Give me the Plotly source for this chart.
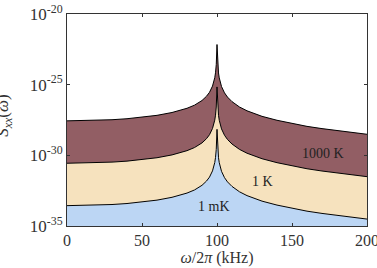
import plotly.graph_objects as go

# frequency (kHz)
freq_khz = [0, 10, 20, 30, 40, 50, 60, 70, 80, 85, 90, 93, 95, 97, 98, 98.5, 99, 99.5,
            100, 100.5, 101, 101.5, 102, 103, 105, 107, 110, 115, 120, 130, 140, 150,
            160, 170, 180, 190, 200]

# log10 of S_xx
log_s_1000K = [-27.56, -27.55, -27.52, -27.48, -27.41, -27.31, -27.17, -26.97, -26.67, -26.45,
               -26.12, -25.82, -25.54, -25.10, -24.76, -24.51, -24.16, -23.58,
               -22.16, -23.58, -24.17, -24.52, -24.77, -25.13, -25.58, -25.88, -26.20, -26.58,
               -26.85, -27.24, -27.52, -27.75, -27.95, -28.11, -28.26, -28.39, -28.51]
log_s_1K = [-30.56, -30.55, -30.52, -30.48, -30.41, -30.31, -30.17, -29.97, -29.67, -29.45,
            -29.12, -28.82, -28.54, -28.10, -27.76, -27.51, -27.16, -26.58,
            -25.16, -26.58, -27.17, -27.52, -27.77, -28.13, -28.58, -28.88, -29.20, -29.58,
            -29.85, -30.24, -30.52, -30.75, -30.95, -31.11, -31.26, -31.39, -31.51]
log_s_1mK = [-33.56, -33.55, -33.52, -33.48, -33.41, -33.31, -33.17, -32.97, -32.67, -32.45,
             -32.12, -31.82, -31.54, -31.10, -30.76, -30.51, -30.16, -29.58,
             -28.16, -29.58, -30.17, -30.52, -30.77, -31.13, -31.58, -31.88, -32.20, -32.58,
             -32.85, -33.24, -33.52, -33.75, -33.95, -34.11, -34.26, -34.39, -34.51]

series_names = ["1 mK", "1 K", "1000 K"]
y_tick_exps = [-35, -30, -25, -20]
x_ticks = [0, 50, 100, 150, 200]

colors = ["rgb(188,214,244)", "rgb(246,226,190)", "rgb(146,94,100)"]
FONT = "'Liberation Serif', 'Times New Roman', Times, serif"

fig = go.Figure()
# baseline below the axis range for filling
fig.add_trace(go.Scatter(x=freq_khz, y=[1e-37] * len(freq_khz), mode="lines",
                         line=dict(width=0, color="rgba(0,0,0,0)"), showlegend=False,
                         hoverinfo="skip"))
for name, logs, col in zip(series_names, [log_s_1mK, log_s_1K, log_s_1000K], colors):
    fig.add_trace(go.Scatter(x=freq_khz, y=[10 ** v for v in logs], mode="lines",
                             name=name, fill="tonexty", fillcolor=col,
                             line=dict(color="black", width=1), showlegend=False))

# labels
fig.add_annotation(x=170.7, y=-29.84, xref="x", yref="y", text="1000 K", showarrow=False,
                   font=dict(family=FONT, size=14, color="#222"))
fig.add_annotation(x=130, y=-31.88, xref="x", yref="y", text="1 K", showarrow=False,
                   font=dict(family=FONT, size=14, color="#222"))
fig.add_annotation(x=98, y=-33.64, xref="x", yref="y", text="1 mK", showarrow=False,
                   font=dict(family=FONT, size=14, color="#222"))
# y-axis title (partly cut at the left edge, as in the reference)
fig.add_annotation(x=-0.21, y=0.52, xref="paper", yref="paper", xanchor="center",
                   yanchor="middle", textangle=-90, showarrow=False,
                   text="<i>S</i><sub><i>xx</i></sub>(<i>ω</i>)",
                   font=dict(family=FONT, size=17, color="#333"))

fig.update_layout(
    width=377, height=268,
    margin=dict(l=67, r=10, t=14, b=42, autoexpand=False),
    plot_bgcolor="white", paper_bgcolor="white",
    font=dict(family=FONT, size=16, color="#333"),
    showlegend=False,
)
fig.update_xaxes(range=[0, 200], tickvals=x_ticks, ticktext=[str(t) for t in x_ticks],
                 ticks="inside", ticklen=3, tickcolor="#333", mirror="ticks",
                 ticklabeloverflow="allow", automargin=False,
                 showline=True, linecolor="#333", linewidth=1, showgrid=False, zeroline=False,
                 title=dict(text="<i>ω</i>/2<i>π</i> (kHz)", standoff=2,
                            font=dict(family=FONT, size=16, color="#333")),
                 tickfont=dict(family=FONT, size=16, color="#333"))
fig.update_yaxes(type="log", range=[-35, -20], tickvals=[10 ** e for e in y_tick_exps],
                 ticktext=["10<sup>%d</sup>" % e for e in y_tick_exps],
                 ticks="inside", ticklen=3, tickcolor="#333", mirror="ticks",
                 automargin=False,
                 showline=True, linecolor="#333", linewidth=1, showgrid=False, zeroline=False,
                 tickfont=dict(family=FONT, size=17, color="#333"))

fig.write_html("out.html")
